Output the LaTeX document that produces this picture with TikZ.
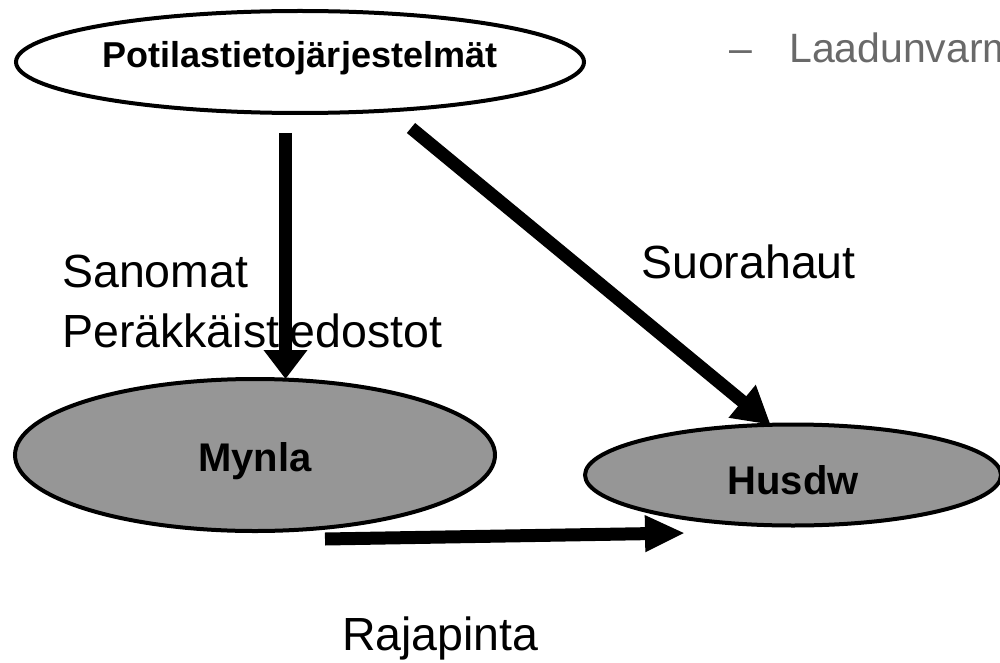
\documentclass[tikz,border=0pt]{standalone}
\usepackage{fontspec}
\setmainfont{Liberation Sans}
\usetikzlibrary{arrows.meta,shapes.geometric}
\definecolor{boxgray}{RGB}{150,150,150}
\definecolor{notegray}{RGB}{105,105,105}
\begin{document}
\begin{tikzpicture}[x=1pt,y=-1pt,
  system/.style={ellipse, draw=black, line width=4pt, inner sep=0pt, outer sep=0pt},
  topfont/.style={font=\bfseries\fontsize{36pt}{40pt}\selectfont},
  boxfont/.style={font=\bfseries\fontsize{40pt}{44pt}\selectfont},
  lbl/.style={inner sep=0pt, anchor=base west, font=\fontsize{46.5pt}{54pt}\selectfont},
  note/.style={inner sep=0pt, anchor=base west, text=notegray, font=\fontsize{41pt}{48pt}\selectfont},
  flow/.style n args={2}{line width=13pt, -{Triangle[length=#1,width=#2]}}]
\useasboundingbox (0,0) rectangle (1000,663);

% systems
\node[system, fill=white, topfont, minimum width=568pt, minimum height=102pt,
      text height=26pt, text depth=14pt] (pot) at (300,62) {Potilastietojärjestelmät};
\node[system, fill=boxgray, boxfont, minimum width=480pt, minimum height=152pt,
      text height=33.6pt, text depth=0pt] (myn) at (255,455) {Mynla};
\node[system, fill=boxgray, boxfont, minimum width=416pt, minimum height=101pt,
      text height=38.6pt, text depth=0pt] (hus) at (793,475) {Husdw};

% bullet at the top right
\node[note] (dash) at (729,63) {–};
\node[note] (qa) at (789,63) {Laadunvarm};

% connector labels
\node[lbl] (sanomat) at (62,287) {Sanomat};
\node[lbl] (perak) at (62,347) {Peräkkäistiedostot};
\node[lbl] (suora) at (641,278) {Suorahaut};
\node[lbl] (raja) at (342,650) {Rajapinta};

% data flows
\coordinate (v1) at (285.5,133);
\draw[flow={29pt}{42pt}] (v1) -- (v1 |- myn.north);
\coordinate (d1) at (411,128);
\draw[flow={37pt}{40pt}] (d1) -- (hus.114);
\coordinate (h1) at (325,539);
\coordinate (h2) at (685,533);
\draw[flow={40pt}{34pt}] (h1) -- (h2);
\end{tikzpicture}
\end{document}
